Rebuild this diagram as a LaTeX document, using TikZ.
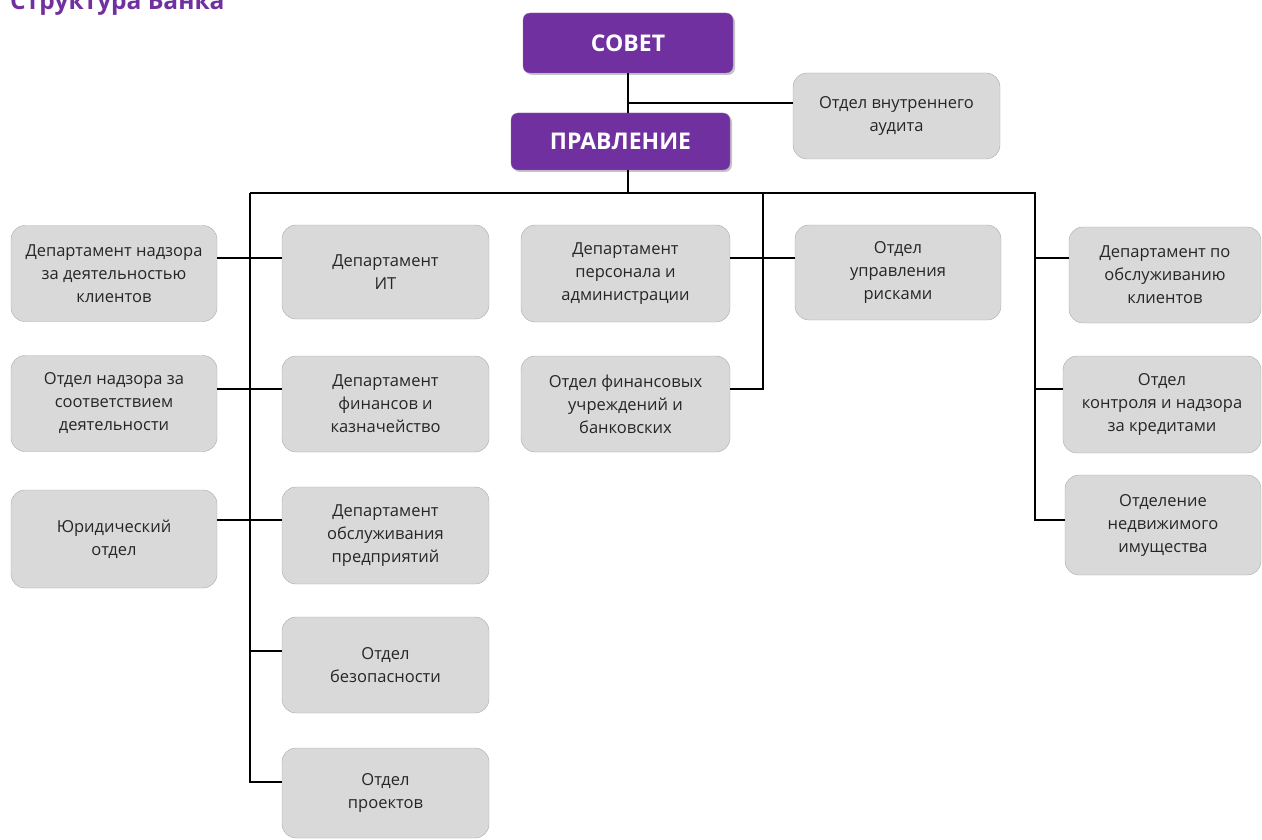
\documentclass[tikz,border=0pt]{standalone}
\usepackage{fontspec}
\setmainfont{Open Sans}
\usetikzlibrary{shadows}
\definecolor{bankpurple}{HTML}{7030A0}
\definecolor{unitgray}{HTML}{D9D9D9}
\definecolor{unitedge}{HTML}{A9A9A9}

\begin{document}
\begin{tikzpicture}[x=1pt, y=-1pt,
  unit/.style={draw=unitedge, fill=unitgray, rounded corners=14pt, align=center,
    inner sep=2pt, minimum width=207pt, minimum height=96pt, text=black!85,
    font=\fontsize{16.5}{23}\selectfont},
  head/.style={draw=bankpurple!75!white, fill=bankpurple, rounded corners=7pt,
    text=white, font=\bfseries\fontsize{23}{26}\selectfont,
    drop shadow={shadow xshift=2pt, shadow yshift=-2pt, fill=black!45, opacity=.5}},
  link/.style={line width=1.8pt}]
  \useasboundingbox (0,0) rectangle (1262,840);
  \clip (0,0) rectangle (1262,840);

  % title
  \node[anchor=base west, inner sep=0pt, text=bankpurple, font=\bfseries\fontsize{24.5}{28}\selectfont] (title) at (10,10) {Структура Банка};

  % top
  \node[head, minimum width=210pt, minimum height=60pt] (sovet) at (628,43) {СОВЕТ};
  \node[head, minimum width=219pt, minimum height=57pt] (pravl) at (620.5,141.5) {ПРАВЛЕНИЕ};
  \node[unit, minimum height=86pt] (audit) at (896.5,116) {Отдел внутреннего\\аудита};

  % left column
  \node[unit, minimum width=206pt] (L1) at (114,273.5) {Департамент надзора\\за деятельностью\\клиентов};
  \node[unit, minimum width=206pt] (L2) at (114,403.5) {Отдел надзора за\\соответствием\\деятельности};
  \node[unit, minimum width=206pt, minimum height=98pt] (L3) at (114,539) {Юридический\\отдел};

  % inner column
  \node[unit, minimum height=94pt] (C1) at (385.5,272) {Департамент\\ИТ};
  \node[unit] (C2) at (385.5,404) {Департамент\\финансов и\\казначейство};
  \node[unit, minimum height=97pt] (C3) at (385.5,535.5) {Департамент\\обслуживания\\предприятий};
  \node[unit] (C4) at (385.5,665) {Отдел\\безопасности};
  \node[unit, minimum height=90pt] (C5) at (385.5,793) {Отдел\\проектов};

  % middle
  \node[unit, minimum width=209pt, minimum height=97pt] (M1) at (625.5,273.5) {Департамент\\персонала и\\администрации};
  \node[unit, minimum width=209pt] (M2) at (625.5,404) {Отдел финансовых\\учреждений и\\банковских};
  \node[unit, minimum width=206pt, minimum height=95pt] (R1) at (898,272.5) {Отдел\\управления\\рисками};

  % right column
  \node[unit, minimum width=192pt] (RR1) at (1165,275) {Департамент по\\обслуживанию\\клиентов};
  \node[unit, minimum width=198pt, minimum height=97pt] (RR2) at (1162,404.5) {Отдел\\контроля и надзора\\за кредитами};
  \node[unit, minimum width=196pt, minimum height=100pt] (RR3) at (1163,525) {Отделение\\недвижимого\\имущества};

  % junctions
  \coordinate (j0) at (628,103);
  \coordinate (lbus) at (250,193);
  \coordinate (r1) at (250,258);
  \coordinate (r2) at (250,389);
  \coordinate (r3) at (250,520);
  \coordinate (r4) at (250,651);
  \coordinate (r5) at (250,782);
  \coordinate (m0) at (763,193);
  \coordinate (q0) at (1035,193);

  \draw[link] (sovet.south -| j0) -- (pravl.north -| j0);
  \draw[link] (j0) -- (j0 -| audit.west);
  \draw[link] (pravl.south -| j0) -- (j0 |- lbus);
  \draw[link] (lbus) -- (q0) -- (q0 |- r3) -- (RR3.west |- r3);
  \draw[link] (lbus) -- (r5) -- (C5.west |- r5);

  \draw[link] (L1.east |- r1) -- (C1.west |- r1);
  \draw[link] (L2.east |- r2) -- (C2.west |- r2);
  \draw[link] (L3.east |- r3) -- (C3.west |- r3);
  \draw[link] (r4) -- (C4.west |- r4);

  \draw[link] (m0) -- (m0 |- r2) -- (M2.east |- r2);
  \draw[link] (M1.east |- r1) -- (R1.west |- r1);

  \draw[link] (q0 |- r1) -- (RR1.west |- r1);
  \draw[link] (q0 |- r2) -- (RR2.west |- r2);
\end{tikzpicture}
\end{document}
